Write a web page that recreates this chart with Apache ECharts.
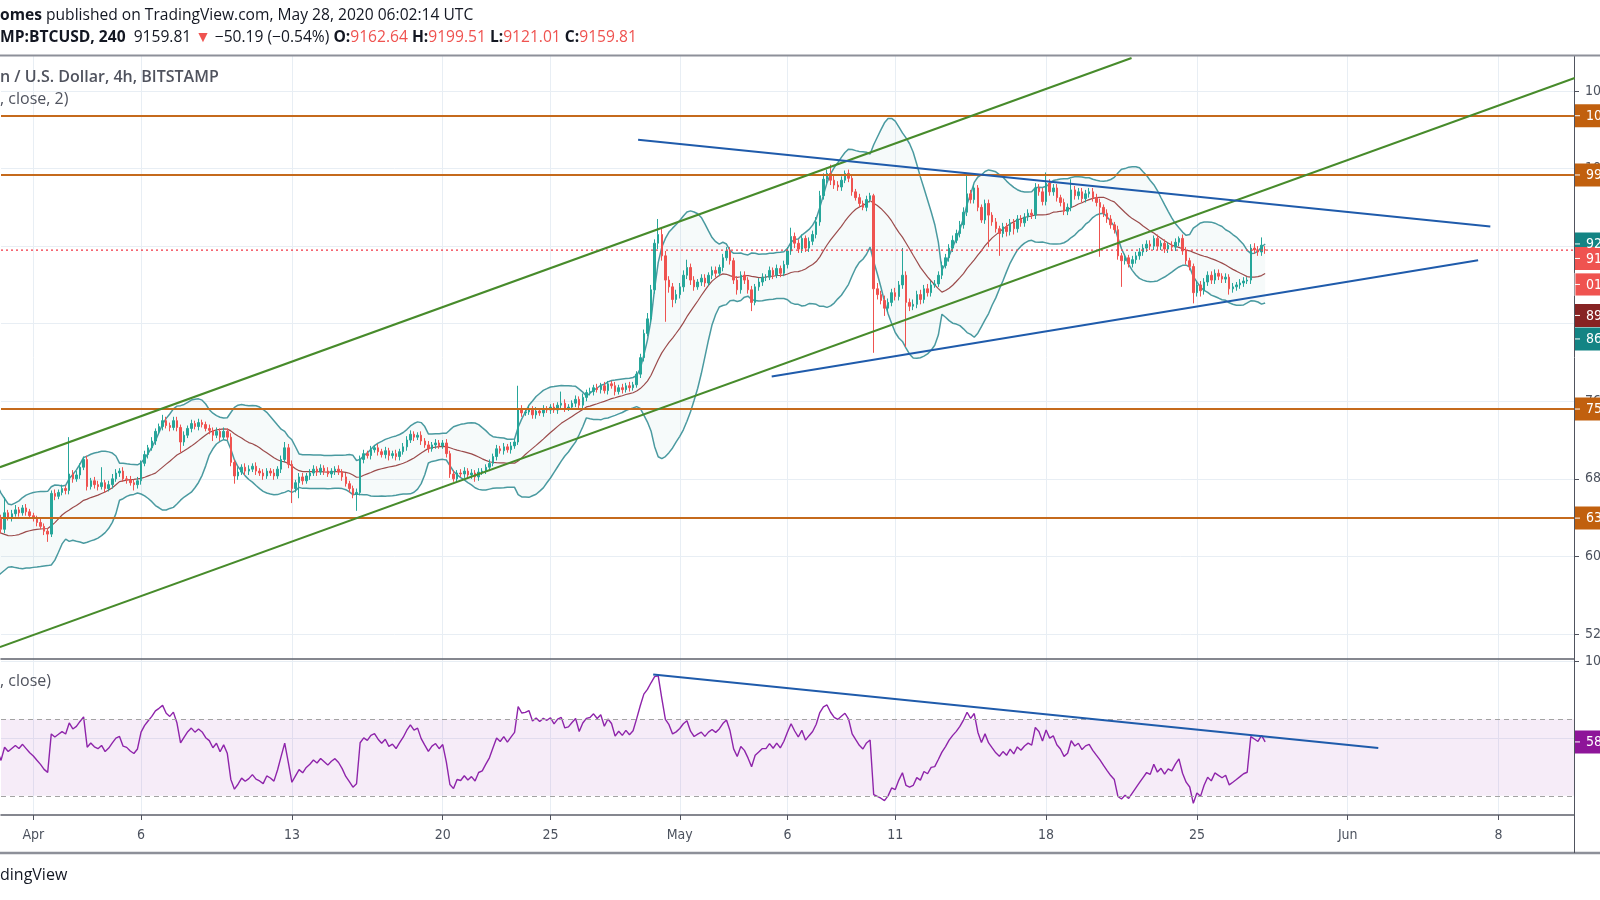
<!DOCTYPE html>
<html>
<head>
<meta charset="utf-8">
<script src="https://cdn.jsdelivr.net/npm/echarts@6/dist/echarts.min.js"></script>
<style>html,body{margin:0;padding:0;background:#fff;}#c{width:1600px;height:900px;}</style>
</head>
<body>
<div id="c"></div>
<script>
// ---------------- DATA ----------------
// 4h bars of BTCUSD (Bitstamp) starting 2020-03-26 00:00 UTC; open of each bar = previous close
const firstOpen = 6690;
const closes = [
6620,6650,6700,6740,6720,6760, 6780,6740,6700,6650,6480,6380, 6300,6200,6150,6250,6220,6240, 6230,6200,6180,6100,5950,5880,
5920,6100,6390,6280,6450,6400, 6440,6480,6450,6500,6460,6420, 6390,6350,6310,6260,6230,6650, 6620,6660,6700,6680,6850,6800,
6840,6920,7000,6720,6780,6740, 6720,6760,6700,6740,6800,6860, 6880,6800,6790,6760,6740,6780, 6960,7050,7120,7190,7290,7340,
7400,7350,7330,7400,7330,7180, 7250,7320,7370,7340,7380,7360, 7320,7300,7250,7290,7230,7290, 7230,6970,6830,6870,6920,6880,
6900,6930,6880,6860,6830,6880, 6860,6830,6900,7000,7120,6950, 6700,6760,6820,6780,6830,6860, 6900,6870,6910,6880,6850,6880,
6900,6870,6820,6750,6700,6640, 6660,7000,7060,7040,7100,7120, 7080,7050,7090,7040,7060,7030, 7080,7130,7200,7260,7230,7250,
7190,7150,7110,7150,7170,7140, 7170,7060,6850,6800,6860,6850, 6880,6840,6860,6820,6870,6880, 6920,6960,7030,7110,7090,7130,
7100,7140,7180,7520,7480,7490, 7520,7460,7500,7480,7520,7510, 7540,7510,7560,7580,7530,7540, 7580,7620,7560,7640,7690,7700,
7740,7720,7760,7710,7780,7760, 7700,7740,7720,7760,7740,7770, 7880,8050,8300,8450,8750,9230, 9320,9100,8850,8780,8650,8700,
8780,8900,8980,8850,8780,8830, 8870,8820,8900,8950,8920,8980, 9080,9150,9050,8850,8750,8900, 8850,8750,8620,8780,8830,8880,
8880,8950,8900,8970,8920,9010, 9150,9300,9230,9170,9280,9180, 9250,9320,9450,9720,9890,9950, 9880,9830,9810,9880,9950,9900,
9760,9700,9640,9600,9680,9720, 8760,8700,8640,8560,8620,8720, 8680,8800,8900,8620,8580,8600, 8700,8650,8760,8720,8800,8810,
8900,9000,9080,9180,9260,9330, 9420,9550,9740,9680,9800,9600, 9470,9640,9520,9450,9380,9330, 9400,9350,9440,9380,9480,9440,
9500,9540,9520,9800,9760,9660, 9850,9760,9800,9700,9650,9560, 9600,9780,9720,9760,9690,9740, 9760,9700,9650,9600,9540,9480,
9420,9370,9100,9050,9080,9020, 9060,9100,9140,9180,9220,9200, 9280,9200,9230,9170,9210,9190, 9240,9280,9150,9050,8990,8720,
8800,8740,8830,8900,8850,8920, 8890,8860,8880,8760,8780,8800, 8820,8840,8850,9180,9160,9140, 9210
];
const wickUp = [
40,30,50,30,40,30, 90,30,40,30,40,30, 40,50,30,60,30,40, 30,40,30,30,40,30,
50,80,40,40,160,30, 40,50,30,30,40,30, 30,30,40,30,30,30, 40,30,40,30,380,40,
40,40,30,40,30,40, 40,160,30,40,50,40, 30,40,30,40,30,40, 30,40,30,40,30,30,
60,40,30,40,40,30, 40,30,40,30,40,30, 30,40,30,40,30,40, 30,40,30,50,30,40,
40,30,40,30,40,30, 30,40,30,40,60,40, 40,30,40,40,30,40, 40,30,40,30,40,30,
30,40,30,40,30,30, 40,40,40,30,40,30, 40,30,40,30,30,40, 30,40,40,40,30,30,
40,30,40,30,40,30, 30,40,30,40,30,40, 40,30,40,30,40,30, 30,40,30,40,30,40,
30,40,30,240,40,30, 40,30,40,30,40,30, 30,40,30,120,40,30, 30,40,30,40,30,40,
30,40,30,40,30,30, 40,30,40,30,40,30, 30,40,40,60,50,40, 160,60,50,40,40,50,
40,50,80,40,40,30, 40,40,30,40,40,30, 40,40,40,30,40,40, 40,30,40,30,40,40,
30,40,30,40,30,40, 40,90,40,40,40,30, 40,40,50,50,60,40, 90,50,40,40,30,40,
40,30,40,30,40,30, 20,60,40,50,40,40, 50,40,280,40,40,50, 40,50,40,50,40,40,
40,40,40,40,50,40, 40,50,190,40,40,30, 30,40,40,30,40,30, 40,40,40,40,40,40,
40,40,40,50,40,40, 110,40,40,40,30,40, 40,110,40,40,40,40, 40,40,40,40,30,40,
40,30,40,30,40,30, 40,40,40,40,40,40, 30,40,30,40,30,40, 40,20,40,40,30,30,
40,40,40,40,40,40, 40,30,40,30,40,30, 40,40,30,40,50,40, 80
];
const wickDn = [
40,30,40,30,40,30, 30,40,30,40,60,50, 60,40,90,30,40,30, 30,40,30,40,60,30,
40,30,40,40,40,30, 40,30,40,30,40,30, 30,40,30,40,80,30, 40,30,30,40,40,40,
30,40,30,40,30,40, 40,30,40,30,40,30, 40,30,40,30,60,40, 40,30,40,30,40,30,
40,30,40,30,40,110, 40,30,40,30,40,30, 30,40,60,30,40,30, 30,40,80,40,30,40,
40,30,40,30,40,30, 30,40,30,40,30,40, 150,40,160,40,30,40, 30,40,30,40,30,40,
40,30,40,30,40,40, 170,30,40,30,40,30, 40,30,40,50,30,40, 40,30,40,30,40,30,
40,30,40,30,40,30, 30,40,40,30,40,30, 40,30,40,50,40,30, 30,40,30,40,30,40,
30,40,30,30,40,30, 30,40,40,30,40,30, 40,30,40,30,40,30, 30,40,40,30,40,30,
40,30,40,30,40,30, 40,30,40,30,40,30, 30,40,40,30,40,40, 60,50,430,60,80,40,
40,50,40,50,40,30, 40,40,30,40,40,30, 40,30,40,40,50,40, 40,40,90,30,40,40,
40,30,40,30,40,30, 40,40,50,40,40,40, 40,40,40,40,40,40, 50,40,40,40,30,40,
40,30,40,30,40,30, 660,50,40,80,40,40, 40,40,40,460,50,40, 40,50,40,40,40,30,
30,40,30,40,40,30, 40,40,40,40,40,40, 30,40,330,40,40,230, 40,50,40,60,40,40,
40,40,40,40,40,40, 40,40,40,40,40,40, 40,40,40,40,40,40, 40,40,40,510,40,40,
40,40,40,270,40,40, 40,40,40,40,40,40, 40,40,40,40,40,40, 40,40,40,40,40,110,
40,60,40,40,40,40, 40,40,40,60,40,40, 40,40,30,40,40,40, 40
];
// last (live) bar from the header
const lastBar = {o: 9162.64, h: 9199.51, l: 9121.01, c: 9159.81};

// horizontal drawings (price levels)
const hLevels = [10545, 9934, 7520, 6395];
// trend lines: [bar index, price] / [bar index, rsi]
const greenUpper = [[26.7, 6920], [341.8, 11140]];
const greenLower = [[26.7, 5066], [465.2, 10934]];
const blueUpper  = [[204.4, 10297], [441.7, 9403]];
const blueLower  = [[241.6, 7856], [438.3, 9055]];
const rsiTrend   = [[208.6, 93.3], [410.5, 55.0]];

// axis ticks
const priceTicks = [5200, 6000, 6800, 7600, 8400, 9200, 10000, 10800];
const rsiTicks = [60, 100];
const dateTickDays = [6, 11, 18, 25, 30, 36, 41, 46, 53, 60, 67, 74];
const dateTickLabels = ['Apr', '6', '13', '20', '25', 'May', '6', '11', '18', '25', 'Jun', '8'];
const countdownText = '01:57:46';

// ---------------- BUILD ----------------
const barsPerDay = 6;
const firstVisible = 27, lastSlot = 465;
const ohlc = [];
let prev = firstOpen;
for (let i = 0; i < closes.length; i++) {
  const o = prev, c = closes[i];
  ohlc.push([o, c, Math.min(o, c) - wickDn[i], Math.max(o, c) + wickUp[i]]);
  prev = c;
}
ohlc.push([lastBar.o, lastBar.c, lastBar.l, lastBar.h]);
const allClose = ohlc.map(d => d[1]);
const prevClose = closes[closes.length - 1];

const cats = [];
for (let i = 0; i <= lastSlot; i++) cats.push(String(i));
const tickIdx = new Set(dateTickDays.map(d => d * barsPerDay));
const labelMap = {};
dateTickDays.forEach((d, k) => { labelMap[String(d * barsPerDay)] = dateTickLabels[k]; });
const isTick = (idx) => tickIdx.has(idx);

// Bollinger Bands (20, close, 2)
const bbLen = 20, bbMult = 2;
const bbU = [], bbM = [], bbL = [], bbW = [];
for (let i = 0; i < allClose.length; i++) {
  if (i < bbLen - 1) { bbU.push(null); bbM.push(null); bbL.push(null); bbW.push(null); continue; }
  const s = allClose.slice(i - bbLen + 1, i + 1);
  const m = s.reduce((a, b) => a + b, 0) / bbLen;
  const sd = Math.sqrt(s.reduce((a, b) => a + (b - m) * (b - m), 0) / bbLen);
  bbM.push(m); bbU.push(m + bbMult * sd); bbL.push(m - bbMult * sd); bbW.push(2 * bbMult * sd);
}
// RSI (14, close)
const rsiLen = 14;
const rsi = new Array(allClose.length).fill(null);
(function () {
  let au = 0, ad = 0;
  for (let i = 1; i <= rsiLen; i++) { const d = allClose[i] - allClose[i - 1]; au += Math.max(d, 0); ad += Math.max(-d, 0); }
  au /= rsiLen; ad /= rsiLen;
  rsi[rsiLen] = 100 - 100 / (1 + au / ad);
  for (let i = rsiLen + 1; i < allClose.length; i++) {
    const d = allClose[i] - allClose[i - 1];
    au = (au * (rsiLen - 1) + Math.max(d, 0)) / rsiLen;
    ad = (ad * (rsiLen - 1) + Math.max(-d, 0)) / rsiLen;
    rsi[i] = ad === 0 ? 100 : 100 - 100 / (1 + au / ad);
  }
})();

// ---------------- STYLE ----------------
const narrow = "'Liberation Sans Narrow','DejaVu Sans Condensed','Roboto Condensed','Liberation Sans',sans-serif";
const uiFont = "'Open Sans','Noto Sans',sans-serif";
const gridColor = '#e8eef4';
const axisColor = '#50535e';
const bandColor = '#4a9aa0';

const chart = echarts.init(document.getElementById('c'), null, {width: 1600, height: 900});

const option = {
  animation: false,
  backgroundColor: '#ffffff',
  grid: [
    {left: 1, width: 1573, top: 56, height: 603, containLabel: false, outerBoundsMode: 'none'},
    {left: 1, width: 1573, top: 659, height: 156, containLabel: false, outerBoundsMode: 'none'}
  ],
  xAxis: [
    {type: 'category', gridIndex: 0, data: cats, min: firstVisible, max: lastSlot, boundaryGap: false,
     axisLine: {show: true, lineStyle: {color: '#5d606b', width: 1.5}}, axisTick: {show: false}, axisLabel: {show: false},
     splitLine: {show: true, interval: isTick, lineStyle: {color: gridColor, width: 1}}},
    {type: 'category', gridIndex: 1, data: cats, min: firstVisible, max: lastSlot, boundaryGap: false,
     axisLine: {show: true, lineStyle: {color: '#5d606b', width: 1.5}},
     axisTick: {show: true, interval: isTick, length: 5, lineStyle: {color: axisColor}},
     axisLabel: {show: true, interval: isTick, formatter: v => labelMap[v] || '', color: '#4c525e', fontSize: 14, fontFamily: narrow, margin: 13},
     splitLine: {show: true, interval: isTick, lineStyle: {color: gridColor, width: 1}}},
    {type: 'value', gridIndex: 0, min: firstVisible, max: lastSlot, show: false},
    {type: 'value', gridIndex: 1, min: firstVisible, max: lastSlot, show: false}
  ],
  yAxis: [
    {type: 'value', gridIndex: 0, position: 'right', min: 4942, max: 11161,
     axisLine: {show: true, lineStyle: {color: axisColor}},
     axisTick: {show: true, length: 5, customValues: priceTicks, lineStyle: {color: axisColor}},
     axisLabel: {show: true, customValues: priceTicks, formatter: v => Number(v).toFixed(2), margin: 11, color: '#4c525e', fontSize: 14, fontFamily: narrow},
     splitLine: {show: true, lineStyle: {color: gridColor, width: 1}}},
    {type: 'value', gridIndex: 1, position: 'right', min: 20, max: 101.4,
     axisLine: {show: true, lineStyle: {color: axisColor}},
     axisTick: {show: true, length: 5, customValues: rsiTicks, lineStyle: {color: axisColor}},
     axisLabel: {show: true, customValues: rsiTicks, formatter: v => Number(v).toFixed(2), margin: 11, color: '#4c525e', fontSize: 14, fontFamily: narrow},
     splitLine: {show: true, lineStyle: {color: gridColor, width: 1}}}
  ],
  series: [
    {name: 'bbLower', type: 'line', xAxisIndex: 0, yAxisIndex: 0, data: bbL, stack: 'bb', symbol: 'none', silent: true,
     lineStyle: {color: bandColor, width: 1.5}, z: 2},
    {name: 'bbBand', type: 'line', xAxisIndex: 0, yAxisIndex: 0, data: bbW, stack: 'bb', symbol: 'none', silent: true,
     lineStyle: {color: bandColor, width: 1.5}, areaStyle: {color: 'rgba(40,150,150,0.06)'}, z: 2},
    {name: 'bbBasis', type: 'line', xAxisIndex: 0, yAxisIndex: 0, data: bbM, symbol: 'none', silent: true,
     lineStyle: {color: '#9b4b4b', width: 1.2}, z: 2},
    {name: 'BTCUSD', type: 'candlestick', xAxisIndex: 0, yAxisIndex: 0, data: ohlc, barWidth: 2, silent: true,
     itemStyle: {color: '#26a69a', color0: '#ef5350', borderColor: '#26a69a', borderColor0: '#ef5350', borderWidth: 1},
     z: 3,
     markLine: {symbol: 'none', silent: true, label: {show: false}, animation: false,
       data: hLevels.map(v => ({yAxis: v, lineStyle: {color: '#c56a1c', width: 2, type: 'solid'}}))}},
    {name: 'priceLine', type: 'line', xAxisIndex: 2, yAxisIndex: 0, silent: true, z: 4, symbol: 'none',
     data: [[firstVisible, lastBar.c], [lastSlot, lastBar.c]],
     lineStyle: {color: '#f23645', width: 1.2, type: [2, 3]}},
    {name: 'gU', type: 'line', xAxisIndex: 2, yAxisIndex: 0, data: greenUpper, symbol: 'none', silent: true, lineStyle: {color: '#478b2b', width: 2}, z: 5},
    {name: 'gL', type: 'line', xAxisIndex: 2, yAxisIndex: 0, data: greenLower, symbol: 'none', silent: true, lineStyle: {color: '#478b2b', width: 2}, z: 5},
    {name: 'bU', type: 'line', xAxisIndex: 2, yAxisIndex: 0, data: blueUpper, symbol: 'none', silent: true, lineStyle: {color: '#1f5bab', width: 2}, z: 5},
    {name: 'bL', type: 'line', xAxisIndex: 2, yAxisIndex: 0, data: blueLower, symbol: 'none', silent: true, lineStyle: {color: '#1f5bab', width: 2}, z: 5},
    {name: 'RSI', type: 'line', xAxisIndex: 1, yAxisIndex: 1, data: rsi, symbol: 'none', silent: true,
     lineStyle: {color: '#8e24aa', width: 1.4}, z: 3,
     markArea: {silent: true, itemStyle: {color: 'rgba(156,39,176,0.09)'}, data: [[{yAxis: 30}, {yAxis: 70}]]},
     markLine: {symbol: 'none', silent: true, label: {show: false}, lineStyle: {color: '#a3a3a3', width: 1, type: [5, 4]},
       data: [{yAxis: 70}, {yAxis: 30}]}},
    {name: 'rsiT', type: 'line', xAxisIndex: 3, yAxisIndex: 1, data: rsiTrend, symbol: 'none', silent: true, lineStyle: {color: '#1f5bab', width: 2}, z: 5}
  ]
};
chart.setOption(option);

// ---------------- TEXT & AXIS LABEL BOXES ----------------
const last = allClose.length - 1;
const fmt = v => v.toFixed(2);
const chg = lastBar.c - prevClose;
const pct = chg / prevClose * 100;
const minus = s => s.replace('-', '\u2212');

const g = [];
function txt(x, y, text, opt) {
  g.push({type: 'text', x: x, y: y, z: 200, silent: true,
    style: Object.assign({text: text, fill: '#131722', font: '15.7px ' + uiFont, verticalAlign: 'middle'}, opt || {})});
}
const fs = 15.6;
const richBase = {
  b: {fontWeight: 'bold', fontFamily: uiFont, fontSize: fs, fill: '#131722'},
  n: {fontFamily: uiFont, fontSize: fs, fill: '#131722'},
  r: {fontFamily: uiFont, fontSize: fs, fill: '#ef5350'}
};
txt(0, 16, '{b|omes}{n| published on TradingView.com, May 28, 2020 06:02:14 UTC}', {rich: richBase});
txt(0, 38, '{b|MP:BTCUSD, 240}{n|  ' + fmt(lastBar.c) + ' }{r|\u25BC}{n| ' + minus(fmt(chg)) + ' (' + minus(fmt(pct)) + '%) }' +
  '{b|O:}{r|' + fmt(lastBar.o) + '}{b| H:}{r|' + fmt(lastBar.h) + '}{b| L:}{r|' + fmt(lastBar.l) + '}{b| C:}{r|' + fmt(lastBar.c) + '}',
  {rich: richBase});
txt(0, 77, 'n / U.S. Dollar, 4h, BITSTAMP', {fill: '#50535e', font: '600 16px ' + uiFont});
txt(0, 99, ', close, 2)', {fill: '#50535e', font: '16px ' + uiFont});
txt(0, 681, ', close)', {fill: '#50535e', font: '16px ' + uiFont});
txt(0, 875, 'dingView', {fill: '#131722', font: '16px ' + uiFont});

// frame lines
g.push({type: 'line', z: 150, silent: true, shape: {x1: 0, y1: 55.5, x2: 1600, y2: 55.5}, style: {stroke: '#8d9099', lineWidth: 2}});
g.push({type: 'line', z: 150, silent: true, shape: {x1: 0, y1: 853, x2: 1600, y2: 853}, style: {stroke: '#8d9099', lineWidth: 2.5}});
g.push({type: 'line', z: 150, silent: true, shape: {x1: 1574.5, y1: 815, x2: 1574.5, y2: 853}, style: {stroke: axisColor, lineWidth: 1}});

function box(y, text, bg, stroke) {
  g.push({type: 'rect', z: 210, silent: true, shape: {x: 1575, y: y - 11.5, width: 60, height: 23},
    style: {fill: bg, stroke: stroke || null, lineWidth: stroke ? 1 : 0}});
  g.push({type: 'line', z: 211, silent: true, shape: {x1: 1575, y1: y, x2: 1580, y2: y}, style: {stroke: '#ffffff', lineWidth: 1}});
  g.push({type: 'text', z: 211, silent: true, x: 1586, y: y + 0.5,
    style: {text: text, fill: '#ffffff', font: '14px ' + narrow, verticalAlign: 'middle'}});
}
const py = v => chart.convertToPixel({yAxisIndex: 0}, v);
const ry = v => chart.convertToPixel({yAxisIndex: 1}, v);
hLevels.forEach(v => box(py(v), fmt(v), '#c1600e'));
// stacked value labels (pushed apart like the platform does)
const stackDefs = [
  {v: bbU[last], bg: '#138484', sep: 0},
  {v: lastBar.c, bg: '#ef5350', sep: 14.5, countdown: true},
  {v: bbM[last], bg: '#872323', sep: 31},
  {v: bbL[last], bg: '#138484', sep: 23.5}
];
let prevY = -1e9;
stackDefs.forEach(d => {
  const y = Math.max(py(d.v), prevY + d.sep);
  box(y, fmt(d.v), d.bg);
  prevY = y;
  if (d.countdown) { box(y + 26, countdownText, '#ef5350', 'rgba(255,255,255,0.85)'); prevY = y + 26; }
});
box(ry(rsi[last]), fmt(rsi[last]), '#8e1599');

chart.setOption({graphic: g});
</script>
</body>
</html>
